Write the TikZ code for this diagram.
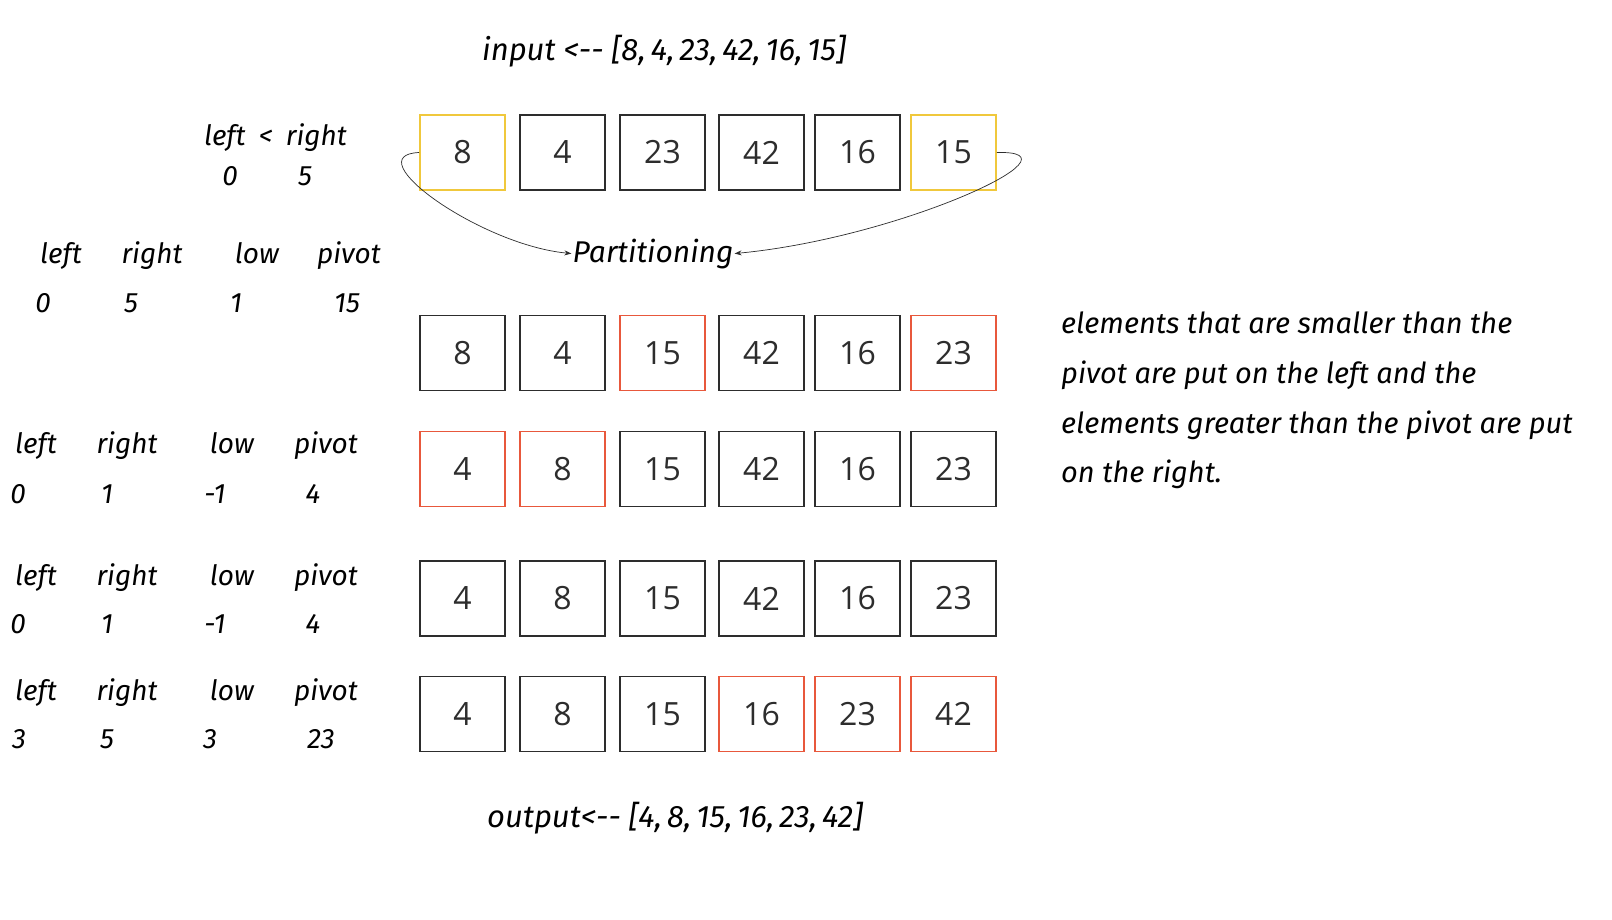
\documentclass[tikz,border=0pt]{standalone}
\usepackage{fontspec}
\setmainfont{Open Sans}
\newfontfamily\hand{Fira Sans}
\usetikzlibrary{arrows.meta}
\definecolor{boxyellow}{RGB}{240,200,60}
\definecolor{boxred}{RGB}{232,88,60}
\definecolor{boxgray}{RGB}{45,45,45}
\newcommand{\cm}{,\hspace{5pt}}
\begin{document}
\begin{tikzpicture}[x=1pt,y=-1pt,
  cell/.style={draw=boxgray, line width=1.6pt, minimum width=85pt, minimum height=75pt,
    inner sep=0pt, font=\fontsize{32}{36}\selectfont, text=boxgray},
  hy/.style={draw=boxyellow},
  hr/.style={draw=boxred},
  hw/.style={font=\hand\itshape\fontsize{28}{32}\selectfont, inner sep=0pt, anchor=base, text=black},
  big/.style={font=\hand\itshape\fontsize{31}{34}\selectfont},
  para/.style={font=\hand\itshape\fontsize{29}{32}\selectfont, anchor=base west},
  conn/.style={-{Stealth[length=7pt,width=5pt]}, line width=0.7pt, draw=boxgray}]
\useasboundingbox[fill=white] (0,0) rectangle (1612,919);

% titles
\node[hw,big] (input) at (664,60) {input <-- [8\cm 4\cm 23\cm 42\cm 16\cm 15]};
\node[hw,big] (output) at (675,827) {output<-- [4\cm 8\cm 15\cm 16\cm 23\cm 42]};

% row 1
\node[cell,hy] (a1) at (462.5,152.5) {8};
\node[cell]    (a2) at (562.5,152.5) {4};
\node[cell]    (a3) at (662.5,152.5) {23};
\node[cell]    (a4) at (761.5,152.5) {42};
\node[cell]    (a5) at (857.5,152.5) {16};
\node[cell,hy] (a6) at (953.5,152.5) {15};
% row 2
\node[cell]    (b1) at (462.5,353) {8};
\node[cell]    (b2) at (562.5,353) {4};
\node[cell,hr] (b3) at (662.5,353) {15};
\node[cell]    (b4) at (761.5,353) {42};
\node[cell]    (b5) at (857.5,353) {16};
\node[cell,hr] (b6) at (953.5,353) {23};
% row 3
\node[cell,hr] (c1) at (462.5,469) {4};
\node[cell,hr] (c2) at (562.5,469) {8};
\node[cell]    (c3) at (662.5,469) {15};
\node[cell]    (c4) at (761.5,469) {42};
\node[cell]    (c5) at (857.5,469) {16};
\node[cell]    (c6) at (953.5,469) {23};
% row 4
\node[cell]    (d1) at (462.5,598.5) {4};
\node[cell]    (d2) at (562.5,598.5) {8};
\node[cell]    (d3) at (662.5,598.5) {15};
\node[cell]    (d4) at (761.5,598.5) {42};
\node[cell]    (d5) at (857.5,598.5) {16};
\node[cell]    (d6) at (953.5,598.5) {23};
% row 5
\node[cell]    (e1) at (462.5,714) {4};
\node[cell]    (e2) at (562.5,714) {8};
\node[cell]    (e3) at (662.5,714) {15};
\node[cell,hr] (e4) at (761.5,714) {16};
\node[cell,hr] (e5) at (857.5,714) {23};
\node[cell,hr] (e6) at (953.5,714) {42};

% partitioning
\node[hw, anchor=base, inner sep=1pt, font=\hand\itshape\fontsize{30}{34}\selectfont] (part) at (653,262) {Partitioning};
\draw[conn] (a1.west) .. controls (355,155) and (480,245) .. (part.west);
\draw[conn] (a6.east) .. controls (1090,150) and (900,238) .. (part.east);

% left < right
\node[hw] (lr) at (275.5,145) {left\hspace{6pt} < \hspace{6pt}right};
\node[hw] (lr0) at (230,185) {0};
\node[hw] (lr5) at (305,185) {5};

% row 2 labels
\node[hw] (l2a) at (61,263) {left};
\node[hw] (l2b) at (152,263) {right};
\node[hw] (l2c) at (257,263) {low};
\node[hw] (l2d) at (349,263) {pivot};
\node[hw] (v2a) at (43,312) {0};
\node[hw] (v2b) at (131,312) {5};
\node[hw] (v2c) at (236,312) {1};
\node[hw] (v2d) at (347,312) {15};
% row 3 labels
\node[hw] (l3a) at (36,453) {left};
\node[hw] (l3b) at (127,453) {right};
\node[hw] (l3c) at (232,453) {low};
\node[hw] (l3d) at (326,453) {pivot};
\node[hw] (v3a) at (18,503) {0};
\node[hw] (v3b) at (107,503) {1};
\node[hw] (v3c) at (215,503) {-1};
\node[hw] (v3d) at (313,503) {4};
% row 4 labels
\node[hw] (l4a) at (36,585) {left};
\node[hw] (l4b) at (127,585) {right};
\node[hw] (l4c) at (232,585) {low};
\node[hw] (l4d) at (326,585) {pivot};
\node[hw] (v4a) at (18,633) {0};
\node[hw] (v4b) at (107,633) {1};
\node[hw] (v4c) at (215,633) {-1};
\node[hw] (v4d) at (313,633) {4};
% row 5 labels
\node[hw] (l5a) at (36,700) {left};
\node[hw] (l5b) at (127,700) {right};
\node[hw] (l5c) at (232,700) {low};
\node[hw] (l5d) at (326,700) {pivot};
\node[hw] (v5a) at (19,748) {3};
\node[hw] (v5b) at (107,748) {5};
\node[hw] (v5c) at (210,748) {3};
\node[hw] (v5d) at (321,748) {23};

% explanation
\node[hw, para] (t1) at (1061,333) {elements that are smaller than the};
\node[hw, para] (t2) at (1061,383) {pivot are put on the left and the};
\node[hw, para] (t3) at (1061,433) {elements greater than the pivot are put};
\node[hw, para] (t4) at (1061,482) {on the right.};
\end{tikzpicture}
\end{document}
